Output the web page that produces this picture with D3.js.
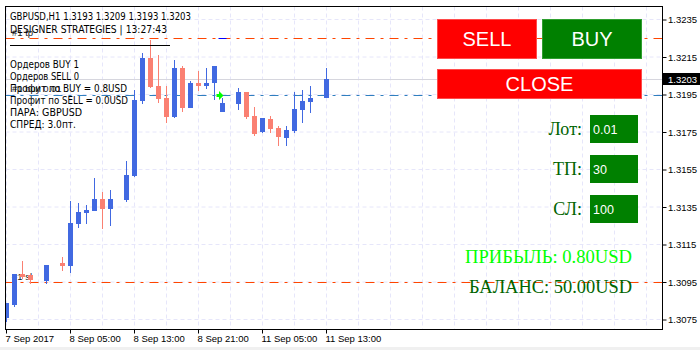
<!DOCTYPE html>
<html><head><meta charset="utf-8">
<script src="https://cdn.jsdelivr.net/npm/d3@7"></script>
<style>html,body{margin:0;padding:0;background:#fff;}svg{display:block;}</style>
</head><body><svg id="c" width="700" height="350"></svg>
<script>
// ---------- DATA ----------
const times = ["7 Sep 21:00","7 Sep 22:00","7 Sep 23:00","8 Sep 00:00","8 Sep 01:00","8 Sep 02:00","8 Sep 03:00","8 Sep 04:00",
  "8 Sep 05:00","8 Sep 06:00","8 Sep 07:00","8 Sep 08:00","8 Sep 09:00","8 Sep 10:00","8 Sep 11:00","8 Sep 12:00",
  "8 Sep 13:00","8 Sep 14:00","8 Sep 15:00","8 Sep 16:00","8 Sep 17:00","8 Sep 18:00","8 Sep 19:00","8 Sep 20:00",
  "8 Sep 21:00","8 Sep 22:00","8 Sep 23:00","11 Sep 00:00","11 Sep 01:00","11 Sep 02:00","11 Sep 03:00","11 Sep 04:00",
  "11 Sep 05:00","11 Sep 06:00","11 Sep 07:00","11 Sep 08:00","11 Sep 09:00","11 Sep 10:00","11 Sep 11:00","11 Sep 12:00","11 Sep 13:00"];
const openP  = [1.30758,1.30827,1.30993,1.30985,null,1.30957,null,1.31053,1.31035,1.31261,1.31320,1.31330,1.31393,1.31339,null,1.31387,
  1.31515,1.31917,1.32143,1.31995,1.31931,1.31832,1.32090,1.31880,1.32013,1.31998,1.32009,1.31858,null,1.31899,1.31963,1.31835,
  1.31752,1.31822,1.31770,1.31720,1.31757,1.31867,1.31912,null,1.3193];
const highP  = [1.30838,1.30995,1.31062,1.30993,null,1.31041,null,1.31085,1.31384,1.31373,1.31361,1.31503,1.31432,1.31441,null,1.31595,
  1.31974,1.32173,1.32241,1.32160,1.31995,1.32136,1.32102,1.32022,1.32075,1.32090,1.32102,1.31931,null,1.31987,1.31963,1.31883,
  1.31825,1.31834,1.31782,1.31782,1.31963,1.31974,1.31995,null,1.3209];
const lowP   = [1.30737,1.30817,1.30966,1.30939,null,1.30942,null,1.31009,1.31000,1.31240,1.31261,1.31329,1.31231,1.31249,null,1.31378,
  1.31508,1.31899,1.31982,1.31902,1.31798,1.31827,1.31857,1.31880,1.31970,1.31981,1.31918,1.31858,null,1.31869,1.31822,1.31729,
  1.31742,1.31745,1.31674,1.31674,1.31745,1.31800,1.31850,null,1.3193];
const closeP = [1.30838,1.30993,1.30978,1.30961,null,1.31041,null,1.31037,1.31266,1.31325,1.31334,1.31393,1.31339,1.31393,null,1.31521,
  1.31921,1.32143,1.31992,1.31928,1.31830,1.32090,1.31878,1.32011,1.31998,1.32013,1.32102,1.31906,null,1.31962,1.31832,1.31739,
  1.31825,1.31768,1.31721,1.31761,1.31873,1.31916,1.31931,null,1.3203];

const yTicks = [1.3235,1.3215,1.3195,1.3175,1.3155,1.3135,1.3115,1.3095,1.3075];
const xTickIdx = [0,8,16,24,32,40];
const xTickLabels = ["7 Sep 2017","8 Sep 05:00","8 Sep 13:00","8 Sep 21:00","11 Sep 05:00","11 Sep 13:00"];

const orderOpen = 1.3195, orderTP = 1.3225, orderSL = 1.3095, bidPrice = 1.3203, orderBar = 27;
const infoLines = ["GBPUSD,H1  1.3193 1.3209 1.3193 1.3203","DESIGNER STRATEGIES | 13:27:43"];
const infoLines2 = ["Ордеров BUY 1","Ордеров SELL 0","Профит по BUY = 0.8USD","Профит по SELL = 0.0USD","ПАРА: GBPUSD","СПРЕД: 3.0пт."];
const infoWidths = [181,157];
const infoWidths2 = [69,69,117,118,72,66];
const panelLabels = ["Лот:","ТП:","СЛ:"];
const panelValues = ["0.01","30","100"];
const profitText = "ПРИБЫЛЬ: 0.80USD", balanceText = "БАЛАНС: 50.00USD";

// ---------- CHART ----------
const svg = d3.select("#c");
const L = 5.5, R = 662.5, T = 6.5, B = 329.5;
const x = d3.scaleLinear().domain([0,1]).range([6.5,14.5]);
const y = d3.scaleLinear().domain([1.3075,1.3235]).range([319.5,19.5]);
const bull = "#4169E1", bear = "#FA8072";
const font = "DejaVu Sans, Verdana, sans-serif";
const axFont = "Liberation Sans, Arial, sans-serif";

svg.append("rect").attr("x",0).attr("y",347).attr("width",700).attr("height",3).attr("fill","#f0f0f0");

svg.append("clipPath").attr("id","clip").append("rect").attr("x",6).attr("y",7).attr("width",656).attr("height",322);
const plot = svg.append("g").attr("clip-path","url(#clip)");

// grid
const grid = plot.append("g").attr("stroke","#E6E6FA").attr("stroke-dasharray","4,3").attr("stroke-width",1);
grid.selectAll("line.h").data(yTicks).enter().append("line")
  .attr("x1",L).attr("x2",R).attr("y1",d=>y(d)).attr("y2",d=>y(d));
grid.selectAll("line.v").data(d3.range(0,81,4)).enter().append("line")
  .attr("x1",d=>x(d)).attr("x2",d=>x(d)).attr("y1",T).attr("y2",B);

// bid line
plot.append("line").attr("x1",L).attr("x2",R).attr("y1",Math.round(y(bidPrice))+0.5).attr("y2",Math.round(y(bidPrice))+0.5)
  .attr("stroke","#d6d6de");

// order lines
const oLines = [{p:orderTP,c:"#FF4500"},{p:orderOpen,c:"#2F7FBF"},{p:orderSL,c:"#FF4500"}];
plot.selectAll("line.o").data(oLines).enter().append("line")
  .attr("x1",L).attr("x2",R).attr("y1",d=>Math.round(y(d.p))+0.5).attr("y2",d=>Math.round(y(d.p))+0.5)
  .attr("stroke",d=>d.c).attr("stroke-dasharray","9,6,3,6");
plot.append("line").attr("x1",x(orderBar)-4).attr("x2",x(orderBar)+4)
  .attr("y1",Math.round(y(orderTP))+0.5).attr("y2",Math.round(y(orderTP))+0.5).attr("stroke","#0000ff");

// order labels (behind candles)
const oLab = [{t:"#1 tp",p:orderTP},{t:"#1 buy 0.01",p:orderOpen},{t:"#1 sl",p:orderSL}];
plot.selectAll("text.ol").data(oLab).enter().append("text")
  .attr("x",12).attr("y",d=>y(d.p)-2.5).text(d=>d.t)
  .attr("font-family",axFont).attr("font-size","9.5px").attr("fill","#222");

// candles
const bars = d3.range(times.length).filter(i=>openP[i]!==null).map(i=>({i,o:openP[i],h:highP[i],l:lowP[i],c:closeP[i]}));
const cg = plot.append("g");
cg.selectAll("line.w").data(bars).enter().append("line")
  .attr("x1",d=>x(d.i)).attr("x2",d=>x(d.i))
  .attr("y1",d=>Math.round(y(d.h))).attr("y2",d=>Math.round(y(d.l)))
  .attr("stroke",d=>d.c>=d.o?bull:bear).attr("stroke-width",1);
cg.selectAll("rect.b").data(bars).enter().append("rect")
  .attr("x",d=>x(d.i)-2.5).attr("width",5)
  .attr("y",d=>Math.round(y(Math.max(d.o,d.c))))
  .attr("height",d=>Math.max(1,Math.round(y(Math.min(d.o,d.c)))-Math.round(y(Math.max(d.o,d.c)))))
  .attr("fill",d=>d.c>=d.o?bull:bear);

// buy arrow
const ax = x(orderBar)-1, ay = Math.round(y(orderOpen))+0.5;
plot.append("path").attr("fill","#00ff00")
  .attr("d",`M${ax-5},${ay-1.5}h2.5v-3l4.5,4.5l-4.5,4.5v-3h-2.5z`);

// frame
svg.append("rect").attr("x",L).attr("y",T).attr("width",R-L).attr("height",B-T)
  .attr("fill","none").attr("stroke","#000");

// axes
const ay1 = svg.append("g").attr("transform",`translate(${R},0)`)
  .call(d3.axisRight(y).tickValues(yTicks).tickSize(4).tickPadding(1.5).tickFormat(d3.format(".4f")));
ay1.select(".domain").remove();
ay1.selectAll("text").attr("font-family",axFont).attr("font-size","9.5px").attr("fill","#000");
ay1.selectAll("line").attr("stroke","#000");

const ax1 = svg.append("g").attr("transform",`translate(0,${B})`)
  .call(d3.axisBottom(x).tickValues(xTickIdx).tickSize(4).tickFormat((d,i)=>xTickLabels[i]));
ax1.select(".domain").remove();
ax1.selectAll("line").attr("stroke","#000").attr("transform","translate(-0.5,0)");
ax1.selectAll("text").attr("text-anchor","start").attr("x",-1.5).attr("y",12).attr("dy",0)
  .attr("font-family",axFont).attr("font-size","9.5px").attr("fill","#000");

// bid label
const by = Math.round(y(bidPrice));
svg.append("rect").attr("x",663).attr("y",by-6).attr("width",37).attr("height",12).attr("fill","#000");
svg.append("text").attr("x",668).attr("y",by+3.5).text(d3.format(".4f")(bidPrice))
  .attr("font-family",axFont).attr("font-size","9.5px").attr("fill","#fff");

// info panel
svg.selectAll("text.i1").data(infoLines).enter().append("text")
  .attr("x",10).attr("y",(d,i)=>20+i*13).text(d=>d)
  .attr("textLength",(d,i)=>infoWidths[i]).attr("lengthAdjust","spacingAndGlyphs")
  .attr("font-family",font).attr("font-size","10px").attr("fill","#000");
svg.append("line").attr("x1",10).attr("x2",170).attr("y1",45.5).attr("y2",45.5).attr("stroke","#000");
svg.selectAll("text.i2").data(infoLines2).enter().append("text")
  .attr("x",10).attr("y",(d,i)=>68+i*12).text(d=>d)
  .attr("textLength",(d,i)=>infoWidths2[i]).attr("lengthAdjust","spacingAndGlyphs")
  .attr("font-family",font).attr("font-size","10px").attr("fill","#000");

// buttons
const btns = [{t:"SELL",x:437,y:19,w:100,h:40,c:"#ff0000",s:"#ff4a4a"},
              {t:"BUY",x:542,y:19,w:100,h:40,c:"#008000",s:"#2f9f2f"},
              {t:"CLOSE",x:437,y:69,w:205,h:30,c:"#ff0000",s:"#ff4a4a"}];
const bg = svg.selectAll("g.btn").data(btns).enter().append("g");
bg.append("rect").attr("x",d=>d.x+0.5).attr("y",d=>d.y+0.5).attr("width",d=>d.w-1).attr("height",d=>d.h-1)
  .attr("fill",d=>d.c).attr("stroke",d=>d.s);
bg.append("text").attr("x",d=>d.x+d.w/2).attr("y",d=>d.y+d.h/2+7).attr("text-anchor","middle")
  .text(d=>d.t).attr("font-family",axFont).attr("font-size","20px").attr("fill","#fff");

// parameter boxes
const pg = svg.selectAll("g.par").data(panelLabels).enter().append("g");
pg.append("text").attr("x",582).attr("y",(d,i)=>135+i*40).attr("text-anchor","end").text(d=>d)
  .attr("font-family","Liberation Serif, Times New Roman, serif").attr("font-size","18px").attr("fill","#006400");
pg.append("rect").attr("x",590).attr("y",(d,i)=>115+i*40).attr("width",48).attr("height",28).attr("fill","#008000");
pg.append("text").attr("x",593).attr("y",(d,i)=>134+i*40).text((d,i)=>panelValues[i])
  .attr("font-family",axFont).attr("font-size","12.5px").attr("fill","#fff");

svg.append("text").attr("x",632).attr("y",263).attr("text-anchor","end").text(profitText)
  .attr("textLength",167).attr("lengthAdjust","spacingAndGlyphs")
  .attr("font-family","Liberation Serif, Times New Roman, serif").attr("font-size","18px").attr("fill","#00ff00");
svg.append("text").attr("x",632).attr("y",293).attr("text-anchor","end").text(balanceText)
  .attr("textLength",163).attr("lengthAdjust","spacingAndGlyphs")
  .attr("font-family","Liberation Serif, Times New Roman, serif").attr("font-size","18px").attr("fill","#006400");
</script></body></html>
